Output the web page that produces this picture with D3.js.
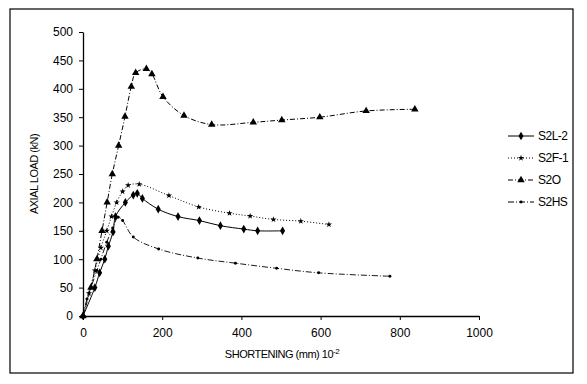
<!DOCTYPE html>
<html>
<head>
<meta charset="utf-8">
<script src="https://cdn.jsdelivr.net/npm/d3@7"></script>
<style>
  body { margin: 0; background: #fff; }
  svg { font-family: "Liberation Sans", Arial, sans-serif; }
</style>
</head>
<body>
<script>
// values: [shortening (mm 10^-2), axial load (kN)]
const s2l2 = [[0,0],[30,50],[42,76],[55,100],[64,123],[76,148],[82,175],[107,200],[127,213],[137,216],[150,207],[190,188],[240,175],[294,168],[347,159],[406,153],[441,150],[504,150]];
const s2f1 = [[0,0],[15,40],[30,80],[45,120],[60,150],[72,175],[85,200],[100,219],[114,230],[142,232],[217,212],[292,192],[370,181],[422,176],[481,170],[550,167],[621,161]];
const s2o = [[0,0],[20,50],[35,100],[48,150],[61,200],[74,250],[90,300],[106,351],[122,404],[133,428],[160,435],[174,426],[202,386],[255,353],[325,337],[430,341],[502,345],[598,350],[715,361],[838,364]];
const s2hs = [[0,0],[10,30],[20,50],[35,80],[45,100],[60,130],[75,155],[89,174],[100,168],[127,139],[191,118],[290,102],[385,93],[489,84],[595,76],[775,70]];

const seriesNames = ['S2L-2', 'S2F-1', 'S2O', 'S2HS'];
const xTicks = [0, 200, 400, 600, 800, 1000];
const yTicks = [0, 50, 100, 150, 200, 250, 300, 350, 400, 450, 500];

const w = 587, h = 384;
const svg = d3.select('body').append('svg').attr('width', w).attr('height', h);

// outer frame
svg.append('rect').attr('x', 10).attr('y', 9).attr('width', 563).attr('height', 364)
  .attr('fill', 'none').attr('stroke', '#000').attr('stroke-width', 1.2);

const x = d3.scaleLinear().domain([0, 1000]).range([83, 479]);
const y = d3.scaleLinear().domain([0, 500]).range([316, 32]);

const gx = svg.append('g').attr('transform', 'translate(0,316)')
  .call(d3.axisBottom(x).tickValues(xTicks).tickFormat(d3.format('d')).tickSize(4).tickSizeOuter(0).tickPadding(8));
const gy = svg.append('g').attr('transform', 'translate(83,0)')
  .call(d3.axisLeft(y).tickValues(yTicks).tickFormat(d3.format('d')).tickSize(4).tickSizeOuter(0).tickPadding(6));
[gx, gy].forEach(g => {
  g.selectAll('text').attr('font-size', 12).attr('font-family', '"Liberation Sans", Arial, sans-serif').attr('fill', '#000');
  g.select('.domain').attr('stroke-width', 1.3);
});

svg.append('text').attr('transform', 'translate(38,174) rotate(-90)')
  .attr('text-anchor', 'middle').attr('font-size', 11).attr('letter-spacing', -0.5)
  .text('AXIAL LOAD (kN)');

const xt = svg.append('text').attr('x', 282).attr('y', 358).attr('text-anchor', 'middle')
  .attr('font-size', 11).attr('letter-spacing', -0.5);
xt.append('tspan').text('SHORTENING (mm) 10');
xt.append('tspan').attr('dy', -4).attr('font-size', 8).text('-2');

const styles = [
  { data: s2l2, dash: null, marker: 'diamond', size: 22, width: 1 },
  { data: s2f1, dash: '1,2', marker: 'star', size: 12, width: 1 },
  { data: s2o, dash: '5,2,1,2', marker: 'triangle', size: 24, width: 1 },
  { data: s2hs, dash: '6,2,1,2', marker: 'circle', size: 7, width: 0.9 }
];
const symbols = { diamond: d3.symbolDiamond, star: d3.symbolStar, triangle: d3.symbolTriangle, circle: d3.symbolCircle };

const line = d3.line().x(d => x(d[0])).y(d => y(d[1])).curve(d3.curveCatmullRom.alpha(0.5));

styles.forEach(s => {
  svg.append('path').attr('d', line(s.data)).attr('fill', 'none').attr('stroke', '#000')
    .attr('stroke-width', s.width).attr('stroke-dasharray', s.dash);
  svg.append('g').selectAll('path').data(s.data).join('path')
    .attr('transform', d => `translate(${x(d[0])},${y(d[1])})`)
    .attr('d', d3.symbol(symbols[s.marker], s.size)).attr('fill', '#000');
});

// legend
const lg = svg.append('g');
seriesNames.forEach((name, i) => {
  const s = styles[i];
  const yy = 136 + i * 22;
  lg.append('line').attr('x1', 508).attr('x2', 534).attr('y1', yy).attr('y2', yy)
    .attr('stroke', '#000').attr('stroke-width', 1).attr('stroke-dasharray', s.dash);
  lg.append('path').attr('transform', `translate(521,${yy})`)
    .attr('d', d3.symbol(symbols[s.marker], s.size)).attr('fill', '#000');
  lg.append('text').attr('x', 538).attr('y', yy + 4).attr('font-size', 12).attr('letter-spacing', -0.5).text(name);
});
</script>
</body>
</html>
